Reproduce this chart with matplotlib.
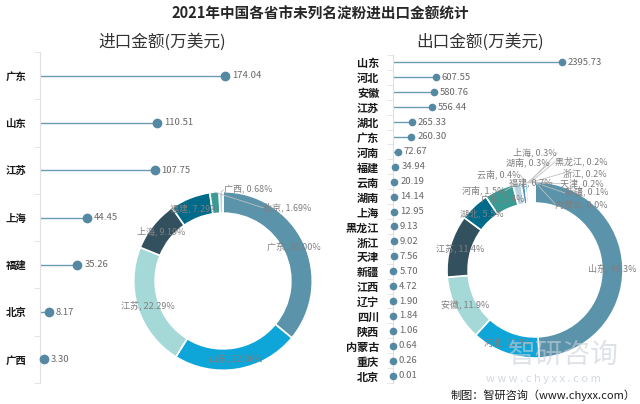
import numpy as np
import matplotlib.pyplot as plt

plt.rcParams['font.family'] = ['Noto Sans CJK SC', 'DejaVu Sans']

# data
imp_names = ['广东', '山东', '江苏', '上海', '福建', '北京', '广西']
imp_values = [174.04, 110.51, 107.75, 44.45, 35.26, 8.17, 3.30]

exp_names = ['山东', '河北', '安徽', '江苏', '湖北', '广东', '河南', '福建', '云南', '湖南',
             '上海', '黑龙江', '浙江', '天津', '新疆', '江西', '辽宁', '四川', '陕西',
             '内蒙古', '重庆', '北京']
exp_values = [2395.73, 607.55, 580.76, 556.44, 265.33, 260.30, 72.67, 34.94, 20.19, 14.14,
              12.95, 9.13, 9.02, 7.56, 5.70, 4.72, 1.90, 1.84, 1.06, 0.64, 0.26, 0.01]

palette = ['#5b93ab', '#0ea5d8', '#a5d9d7', '#33505e', '#006a8a', '#3a9a94', '#b9d3e0']
LINE = '#6a9bb3'
DOT = '#5589a3'
GRAY = '#7f7f7f'

W, H = 640, 404
fig = plt.figure(figsize=(6.4, 4.04), dpi=100)


def px_axes(x0, y0, x1, y1):
    # box given in pixels, y measured from the top
    return fig.add_axes([x0 / W, 1 - y1 / H, (x1 - x0) / W, (y1 - y0) / H])


def lollipop(ax, names, values, xmax, ms, fs):
    n = len(names)
    y = np.arange(n)
    ax.hlines(y, 0, values, color=LINE, lw=1)
    ax.plot(values, y, 'o', color=DOT, ms=ms, clip_on=False, zorder=3)
    for yi, v in zip(y, values):
        ax.annotate(f'{v:.2f}', (v, yi), xytext=(ms / 2 + 2, 0), textcoords='offset points',
                    va='center', ha='left', fontsize=6.8, color='#666666')
    ax.set_yticks(y, names, fontsize=fs, fontweight='bold', color='#1a1a1a')
    ax.set_yticks(np.arange(n + 1) - 0.5, minor=True)
    ax.tick_params(axis='y', which='major', length=0, pad=10)
    ax.tick_params(axis='y', which='minor', length=4, color='#e0e0e0')
    ax.set_ylim(n - 0.5, -0.5)
    ax.set_xlim(0, xmax)
    ax.set_xticks([])
    for s in ['top', 'right', 'bottom']:
        ax.spines[s].set_visible(False)
    ax.spines['left'].set_color('#e0e0e0')


def donut(ax, names, values, lim, shown, leaders, fmt):
    total = sum(values)
    colors = [palette[i % len(palette)] for i in range(len(values))]
    ax.pie(values, colors=colors, startangle=90, counterclock=False, radius=1,
           wedgeprops=dict(width=0.24, edgecolor='white', linewidth=1.2))
    ax.set_xlim(-lim, lim)
    ax.set_ylim(-lim, lim)
    ax.set_aspect('equal')
    ax.axis('off')
    cum = 0
    for name, v in zip(names, values):
        mid = cum + v / 2
        cum += v
        if name not in shown:
            continue
        ang = np.deg2rad(90 - 360 * mid / total)
        txt = f'{name}, {100 * v / total:{fmt}}%'
        if name in leaders:
            lx, ly, ha = leaders[name]
            ax.plot([np.cos(ang), lx], [np.sin(ang), ly], color='#bfbfbf', lw=0.6, clip_on=False)
            ax.text(lx, ly, txt, ha=ha, va='center', fontsize=6.5, color=GRAY, clip_on=False)
        else:
            r = 0.88
            ax.text(r * np.cos(ang), r * np.sin(ang), txt, ha='center', va='center',
                    fontsize=6.5, color=GRAY)


# left: import lollipop
axl = px_axes(40, 52, 310, 383)
lollipop(axl, imp_names, imp_values, 254, 6, 7.5)

# right: export lollipop
axr = px_axes(393, 55, 625, 383)
lollipop(axr, exp_names, exp_values, 3290, 4.5, 8)

# donuts
dl = px_axes(123, 181, 323, 381)
donut(dl, imp_names, imp_values, 1.12, imp_names,
      {'广西': (0.01, 1.02, 'left'), '北京': (0.45, 0.82, 'left')}, '.2f')

dr = px_axes(435, 170, 635, 370)
exp_shown = ['山东', '河北', '安徽', '江苏', '湖北', '广东', '河南', '福建', '云南', '湖南',
             '上海', '黑龙江', '浙江', '天津', '新疆', '内蒙古']
exp_leaders = {
    '河南': (-0.34, 0.90, 'right'),
    '云南': (-0.17, 1.08, 'right'),
    '湖南': (0.17, 1.22, 'right'),
    '上海': (0.25, 1.33, 'right'),
    '福建': (0.2, 0.99, 'right'),
    '黑龙江': (0.23, 1.23, 'left'),
    '浙江': (0.32, 1.10, 'left'),
    '天津': (0.28, 0.98, 'left'),
    '新疆': (0.34, 0.875, 'left'),
    '内蒙古': (0.23, 0.75, 'left'),
}
donut(dr, exp_names, exp_values, 1.136, exp_shown, exp_leaders, '.1f')

# titles
fig.text(0.5, 1 - 14 / H, '2021年中国各省市未列名淀粉进出口金额统计', ha='center', va='center',
         fontsize=10.5, fontweight='bold', color='#262626')
fig.text(162 / W, 1 - 42 / H, '进口金额(万美元)', ha='center', va='center',
         fontsize=12, color='#333333')
fig.text(480 / W, 1 - 42 / H, '出口金额(万美元)', ha='center', va='center',
         fontsize=12, color='#333333')

# watermark and source
fig.text(563 / W, 1 - 355 / H, '智研咨询', ha='center', va='center', fontsize=20,
         color='#c9d0d8', alpha=0.6, zorder=10)
fig.text(543 / W, 1 - 379 / H, 'w w w . c h y x x . c o m', ha='center', va='center',
         fontsize=8, color='#c9d0d8', alpha=0.8, zorder=10)
fig.text(636 / W, 1 - 395 / H, '制图：智研咨询（www.chyxx.com）', ha='right', va='center',
         fontsize=8, color='#1a1a1a')

fig.savefig('out.png', dpi=100)
